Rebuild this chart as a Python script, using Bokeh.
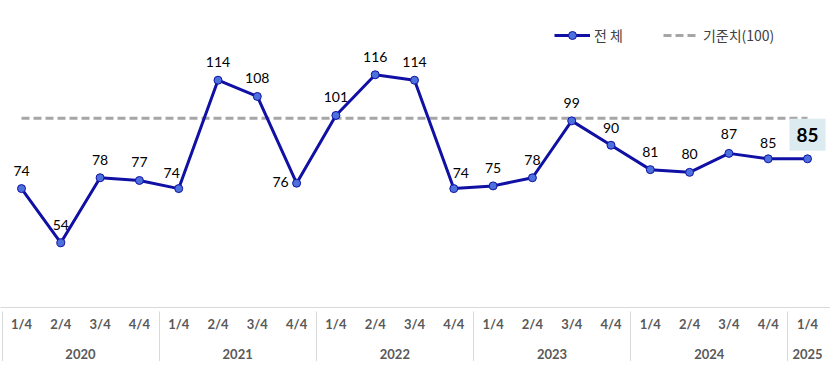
from bokeh.plotting import figure
from bokeh.models import (ColumnDataSource, Range1d, FixedTicker, LinearAxis,
                          Legend, LegendItem, Label)
from bokeh.core.properties import value
from bokeh.embed import file_html
from bokeh.resources import INLINE

# ---- data ----
years = ["2020"] * 4 + ["2021"] * 4 + ["2022"] * 4 + ["2023"] * 4 + ["2024"] * 4 + ["2025"]
quarters = ["1/4", "2/4", "3/4", "4/4"] * 5 + ["1/4"]
values = [74, 54, 78, 77, 74, 114, 108, 76, 101, 116, 114, 74, 75, 78, 99, 90, 81, 80, 87, 85, 85]
baseline_value = 100
series_name = "전 체"
baseline_name = "기준치(100)"

# label offsets in screen px (style only)
label_dx = [0, 0, 0, 0, -7, 0, 0, -16, 0, 0, 0, 7, 0, 0, 0, 0, 0, 0, 0, 0, 0]
label_dy = [-18, -18, -18, -18, -16, -18, -18, -1, -18, -18, -18, -16, -18, -18, -18, -17, -18, -18, -19, -16, 0]

n = len(values)
idx = list(range(n))

# ---- figure ----
LINE_COLOR = "#1010A4"
FILL_COLOR = "#4C70DC"
GRID_GRAY = "#D9D9D9"
TEXT_GRAY = "#595959"

X0 = -0.5344
p = figure(frame_width=830, frame_height=307, output_backend="svg",
           toolbar_location=None, y_axis_location=None, min_border=0,
           x_range=Range1d(X0, 20.585), y_range=Range1d(30.13, 143.41))
p.outline_line_color = None
p.xgrid.visible = False
p.ygrid.visible = False
p.background_fill_color = "white"
p.border_fill_color = "white"

src = ColumnDataSource(dict(x=idx, y=values))

base = p.line(x=idx, y=[baseline_value] * n, line_color="#A6A6A6",
              line_width=3, line_dash="8 4")
ln = p.line("x", "y", source=src, line_color=LINE_COLOR, line_width=3)
sc = p.scatter("x", "y", source=src, size=8, fill_color=FILL_COLOR,
               line_color=LINE_COLOR, line_width=1)

# regular labels (all but last)
lab_src = ColumnDataSource(dict(x=idx[:-1], y=values[:-1],
                                t=[str(v) for v in values[:-1]],
                                dx=label_dx[:-1], dy=label_dy[:-1]))
p.text("x", "y", text="t", source=lab_src, x_offset="dx", y_offset="dy",
       text_align="center", text_baseline="middle",
       text_font=value("Lato"), text_font_size="14px", text_color="#000000")

# highlighted last value
last = Label(x=idx[-1], y=values[-1], text=str(values[-1]),
             y_offset=24, text_align="center", text_baseline="middle",
             text_font="Lato", text_font_size="19px", text_font_style="bold",
             text_color="#000000", background_fill_color="#DCEBF0",
             padding=(7, 9))
p.add_layout(last)

# ---- axes as table ----
xa = p.xaxis[0]
xa.ticker = FixedTicker(ticks=idx, minor_ticks=[])
xa.major_label_overrides = {i: q for i, q in zip(idx, quarters)}
xa.axis_line_color = GRID_GRAY
xa.axis_line_width = 1
xa.major_tick_in = 0
xa.major_tick_out = 0
xa.minor_tick_line_color = None
xa.major_label_standoff = 8
xa.major_label_text_font = "Lato"
xa.major_label_text_font_style = "bold"
xa.major_label_text_font_size = "13px"
xa.major_label_text_color = TEXT_GRAY

uniq_years = list(dict.fromkeys(years))
centers = []
bounds = [X0 + 0.05]
for y in uniq_years:
    ii = [i for i, yy in enumerate(years) if yy == y]
    centers.append((ii[0] + ii[-1]) / 2)
    if ii[0] > 0:
        bounds.append(ii[0] - 0.5)

ya = LinearAxis(ticker=FixedTicker(ticks=centers, minor_ticks=bounds))
ya.major_label_overrides = {c: y for c, y in zip(centers, uniq_years)}
ya.axis_line_color = None
ya.major_tick_in = 0
ya.major_tick_out = 0
ya.major_tick_line_color = None
ya.minor_tick_line_color = GRID_GRAY
ya.minor_tick_line_width = 1
ya.minor_tick_in = 23
ya.minor_tick_out = 35
ya.major_label_standoff = -21
ya.major_label_text_font = "Lato"
ya.major_label_text_font_style = "bold"
ya.major_label_text_font_size = "13px"
ya.major_label_text_color = TEXT_GRAY
p.add_layout(ya, "below")

# ---- legend ----
legend = Legend(items=[LegendItem(label=series_name, renderers=[ln, sc]),
                       LegendItem(label=baseline_name, renderers=[base])],
                orientation="horizontal", location=(554, 262),
                glyph_width=36, glyph_height=20, label_standoff=4,
                spacing=40, padding=0, margin=0, border_line_color=None,
                background_fill_alpha=0,
                label_text_font="Noto Sans CJK KR", label_text_font_size="14px",
                label_text_color="#404040")
p.add_layout(legend, "center")

open("out.html", "w").write(file_html(p, INLINE))
